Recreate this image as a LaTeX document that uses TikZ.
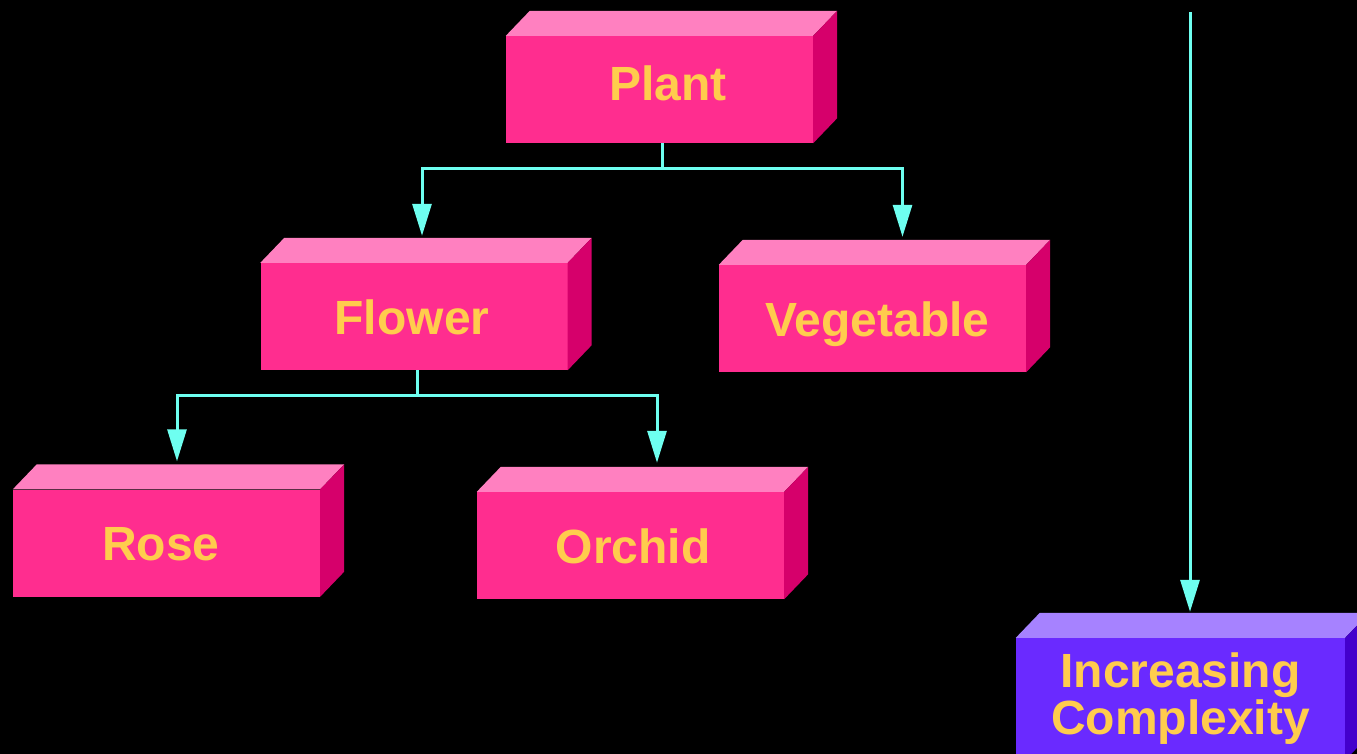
\documentclass[tikz,border=0pt]{standalone}
\usepackage{fontspec}
\setmainfont{Liberation Sans}
\usetikzlibrary{arrows.meta}

\definecolor{pfront}{RGB}{255,45,143}
\definecolor{ptop}{RGB}{255,128,192}
\definecolor{pside}{RGB}{214,0,107}
\definecolor{vfront}{RGB}{106,42,255}
\definecolor{vtop}{RGB}{166,130,255}
\definecolor{vside}{RGB}{68,0,204}
\definecolor{labeltext}{RGB}{255,204,77}
\definecolor{linkcol}{RGB}{110,255,240}

% top and right faces of a block whose front face is node #1
\newcommand\blockfaces[3]{%
  \fill[#2] (#1.north west) -- ++(24,-25) -- ([shift={(24,-25)}]#1.north east)
            -- (#1.north east) -- cycle;
  \fill[#3] (#1.north east) -- ++(24,-25) -- ([shift={(24,-25)}]#1.south east)
            -- (#1.south east) -- cycle;
}
% horizontal offset of a label inside its block
\newcommand\nudge[2]{\hspace*{#1}#2}

\tikzset{
  block/.style={rectangle, fill=pfront, inner sep=0pt, minimum width=307pt,
    minimum height=107pt, text=labeltext, text height=35pt, text depth=0pt,
    font=\bfseries\fontsize{48}{48}\selectfont},
  bigblock/.style={rectangle, fill=vfront, inner sep=0pt, minimum width=329pt,
    minimum height=122pt, text=labeltext, align=center,
    font=\bfseries\fontsize{48}{47}\selectfont},
  link/.style={draw=linkcol, line width=3pt},
  linkarrow/.style={link, -{Triangle[length=32pt,width=19pt,fill=linkcol]}}
}

\begin{document}
\begin{tikzpicture}[x=1pt,y=-1pt]
  \fill[black] (0,0) rectangle (1357,754);
  \useasboundingbox (0,0) rectangle (1357,754);
  \clip (0,0) rectangle (1357,754);

  % front faces
  \node[block, text depth=12pt] (plant) at (659.5,89.5) {\nudge{17pt}{Plant}};
  \node[block] (flower) at (414,316.5) {\nudge{-4pt}{Flower}};
  \node[block] (veg) at (872.5,318.5) {\nudge{10pt}{Vegetable}};
  \node[block] (rose) at (166.5,543) {\nudge{-11pt}{Rose}};
  \node[block] (orchid) at (630.5,545.5) {\nudge{5pt}{Orchid}};
  \node[bigblock] (cplx) at (1180.5,699) {Increasing\\Complexity};

  % depth faces
  \blockfaces{plant}{ptop}{pside}
  \blockfaces{flower}{ptop}{pside}
  \blockfaces{veg}{ptop}{pside}
  \blockfaces{rose}{ptop}{pside}
  \blockfaces{orchid}{ptop}{pside}
  \blockfaces{cplx}{vtop}{vside}

  % hierarchy links
  \draw[link] ([xshift=2.5]plant.south) -- ++(0,25) coordinate (pbar);
  \draw[linkarrow] (pbar) -| ([shift={(8,-27)}]flower.north);
  \draw[linkarrow] (pbar) -| ([shift={(30,-28)}]veg.north);
  \draw[link] ([xshift=3]flower.south) -- ++(0,25) coordinate (fbar);
  \draw[linkarrow] (fbar) -| ([shift={(10.5,-28)}]rose.north);
  \draw[linkarrow] (fbar) -| ([shift={(26.5,-29)}]orchid.north);

  % complexity arrow
  \coordinate (ctop) at (1190,12);
  \draw[linkarrow] (ctop) -- ([shift={(9.5,-26)}]cplx.north);
\end{tikzpicture}
\end{document}
